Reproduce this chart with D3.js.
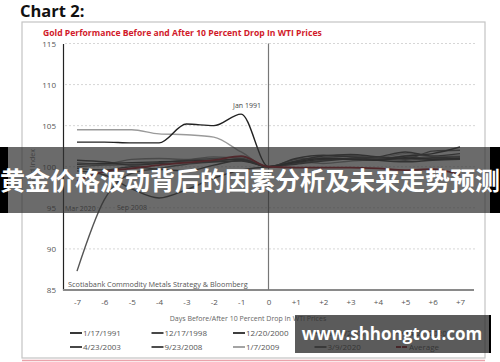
<!DOCTYPE html>
<html>
<head>
<meta charset="utf-8">
<script src="https://cdn.jsdelivr.net/npm/d3@7"></script>
<style>
  body { margin: 0; background: #fff; }
  svg { display: block; font-family: "Open Sans", "Noto Sans", sans-serif; }
</style>
</head>
<body>
<svg id="chart" width="500" height="362"></svg>
<script>
// days before/after the drop
const days = [-7, -6, -5, -4, -3, -2, -1, 0, 1, 2, 3, 4, 5, 6, 7]
const yTicks = [85, 90, 95, 100, 105, 110, 115]

// series values (gold index, day 0 = 100)
const s1991 = [103.0, 103.0, 102.9, 102.9, 105.2, 105.0, 106.4, 100.0, 100.6, 101.0, 100.9, 100.8, 101.1, 100.9, 101.0]
const s1998 = [100.8, 100.6, 100.2, 100.4, 100.5, 100.6, 100.7, 100.0, 100.7, 101.3, 101.5, 101.2, 101.0, 101.1, 101.2]
const s2000 = [100.3, 100.4, 100.5, 100.6, 100.7, 100.8, 100.9, 100.0, 100.5, 100.9, 101.0, 100.9, 101.3, 101.6, 102.4]
const s2001 = [100.0, 100.2, 100.3, 100.5, 100.8, 101.0, 101.2, 100.0, 100.9, 101.1, 101.3, 101.0, 100.8, 101.0, 100.9]
const s2003 = [99.8, 99.6, 100.0, 99.7, 99.5, 100.2, 100.8, 100.0, 101.0, 101.4, 101.2, 100.8, 100.6, 100.8, 100.9]
const s2008 = [99.5, 99.0, 97.3, 96.2, 97.2, 98.6, 99.6, 100.0, 100.3, 100.7, 101.0, 101.2, 101.8, 101.3, 101.6]
const s2009 = [104.5, 104.5, 104.5, 104.0, 103.9, 103.6, 101.8, 100.0, 100.6, 100.9, 101.3, 101.1, 101.6, 101.2, 101.3]
const s2020a = [87.3, 96.0, 99.2, 99.8, 100.3, 100.6, 101.0, 100.0, 100.4, 100.8, 101.0, 101.2, 100.9, 101.9, 102.0]
const s2020b = [100.5, 100.3, 100.9, 101.0, 100.9, 101.2, 101.0, 100.0, 100.6, 100.4, 100.7, 100.9, 101.3, 100.9, 101.1]
const sAvg = [98.3, 99.4, 99.8, 100.2, 100.5, 100.8, 101.3, 100.0, 99.9, 99.9, 99.9, 99.8, 99.6, 99.7, 99.0]

const names = ["1/17/1991", "12/17/1998", "12/20/2000", "9/24/2001", "4/21/2020",
               "4/23/2003", "9/23/2008", "1/7/2009", "3/9/2020", "Average"]
const seriesValues = [s1991, s1998, s2000, s2001, s2020b, s2003, s2008, s2009, s2020a, sAvg]
const colors = ["#222", "#333", "#2a2a2a", "#666", "#888", "#333", "#3a3a3a", "#9a9a9a", "#555", "#a3101f"]

const svg = d3.select("#chart")

// outer frame
svg.append("rect").attr("x", 22).attr("y", 22).attr("width", 463).attr("height", 336)
    .attr("fill", "none").attr("stroke", "#c4c4c4").attr("stroke-width", 1.2)
svg.append("line").attr("x1", 22).attr("x2", 485).attr("y1", 360.5).attr("y2", 360.5)
    .attr("stroke", "#eaa3ab").attr("stroke-width", 1.5)

svg.append("text").attr("x", 20).attr("y", 17).text("Chart 2:")
    .attr("font-size", 16.5).attr("font-weight", "bold").attr("fill", "#111")
svg.append("text").attr("x", 43).attr("y", 36).text("Gold Performance Before and After 10 Percent Drop In WTI Prices")
    .attr("font-size", 8.6).attr("font-weight", "bold").attr("fill", "#d11a2a")

const x = d3.scaleLinear().domain([-7, 7]).range([77, 460])
const y = d3.scaleLinear().domain([85, 115]).range([290, 43.5])

// gridlines
svg.append("g").selectAll("line").data(yTicks.filter(d => d > 85)).join("line")
    .attr("x1", 65).attr("x2", 475)
    .attr("y1", d => y(d)).attr("y2", d => y(d))
    .attr("stroke", "#d6d6d6").attr("stroke-dasharray", "2,2")

// y axis
const yAxis = svg.append("g").attr("transform", "translate(63,0)")
    .call(d3.axisLeft(y).tickValues(yTicks).tickSize(0).tickPadding(7))
yAxis.select(".domain").attr("stroke", "#222").attr("stroke-width", 1.2)
yAxis.selectAll("text").attr("font-size", 8).attr("fill", "#555").attr("font-family", "Open Sans")

// x axis
svg.append("line").attr("x1", 63).attr("x2", 474).attr("y1", y(85)).attr("y2", y(85))
    .attr("stroke", "#8a8a8a").attr("stroke-width", 2)
const xAxis = svg.append("g").attr("transform", `translate(0,${y(85)})`)
    .call(d3.axisBottom(x).tickValues(days).tickSize(0).tickPadding(9)
        .tickFormat(d => d > 0 ? "+" + d : d < 0 ? "-" + Math.abs(d) : "0"))
xAxis.select(".domain").remove()
xAxis.selectAll("text").attr("font-size", 8).attr("fill", "#555").attr("font-family", "Open Sans")

// day 0 marker
svg.append("line").attr("x1", x(0)).attr("x2", x(0)).attr("y1", y(115)).attr("y2", y(85))
    .attr("stroke", "#777").attr("stroke-width", 1.2)

svg.append("text").attr("transform", `translate(35,${y(100)}) rotate(-90)`)
    .attr("text-anchor", "middle").text("Gold Index").attr("font-size", 7).attr("fill", "#666")
svg.append("text").attr("x", 248).attr("y", 321).attr("text-anchor", "middle")
    .text("Days Before/After 10 Percent Drop In WTI Prices").attr("font-size", 7).attr("fill", "#666")
svg.append("text").attr("x", 68).attr("y", 287).text("Scotiabank Commodity Metals Strategy & Bloomberg")
    .attr("font-size", 7.3).attr("fill", "#555")

// series
const line = d3.line().x((d, i) => x(days[i])).y(d => y(d)).curve(d3.curveMonotoneX)
const order = [4, 8, 7, 3, 1, 2, 5, 6, 0, 9]
svg.append("g").selectAll("path").data(order).join("path")
    .attr("d", i => line(seriesValues[i]))
    .attr("fill", "none")
    .attr("stroke", i => colors[i])
    .attr("stroke-width", i => i === 9 ? 1.8 : 1.4)

svg.append("text").attr("x", 233).attr("y", 108).text("Jan 1991").attr("font-size", 7).attr("fill", "#444")
svg.append("text").attr("x", 65).attr("y", 211).text("Mar 2020").attr("font-size", 7).attr("fill", "#555")
svg.append("text").attr("x", 117).attr("y", 210).text("Sep 2008").attr("font-size", 7).attr("fill", "#555")

// legend
const legend = svg.append("g").selectAll("g").data(names).join("g")
    .attr("transform", (d, i) => `translate(${70 + (i % 5) * 81.5},${i < 5 ? 333 : 347})`)
legend.append("line").attr("x1", 0).attr("x2", 12).attr("y1", 0).attr("y2", 0)
    .attr("stroke", (d, i) => colors[i]).attr("stroke-width", (d, i) => i === 9 ? 2 : 1.8)
    .attr("stroke-dasharray", (d, i) => i === 9 ? "5,1" : null)
legend.append("text").attr("x", 13).attr("y", 3).text(d => d)
    .attr("font-size", 8).attr("fill", "#555")

// banner overlay
svg.append("rect").attr("x", 0).attr("y", 147).attr("width", 500).attr("height", 66)
    .attr("fill", "rgba(50,50,50,0.72)")
svg.append("rect").attr("x", 0).attr("y", 147).attr("width", 8).attr("height", 66).attr("fill", "#000")
svg.append("rect").attr("x", 490).attr("y", 147).attr("width", 10).attr("height", 66).attr("fill", "#000")
svg.append("text").attr("x", 250).attr("y", 190).attr("text-anchor", "middle")
    .text("黄金价格波动背后的因素分析及未来走势预测")
    .attr("font-family", "Noto Sans CJK SC").attr("font-weight", "bold")
    .attr("font-size", 25).attr("fill", "#fff")

// watermark
svg.append("rect").attr("x", 295).attr("y", 315).attr("width", 195).attr("height", 38)
    .attr("fill", "rgba(45,45,45,0.78)")
svg.append("rect").attr("x", 489).attr("y", 315).attr("width", 2).attr("height", 38).attr("fill", "#000")
svg.append("text").attr("x", 392).attr("y", 340).attr("text-anchor", "middle")
    .text("www.shhongtou.com").attr("font-family", "Open Sans").attr("font-weight", "bold")
    .attr("font-size", 17).attr("fill", "#fff")
</script>
</body>
</html>
